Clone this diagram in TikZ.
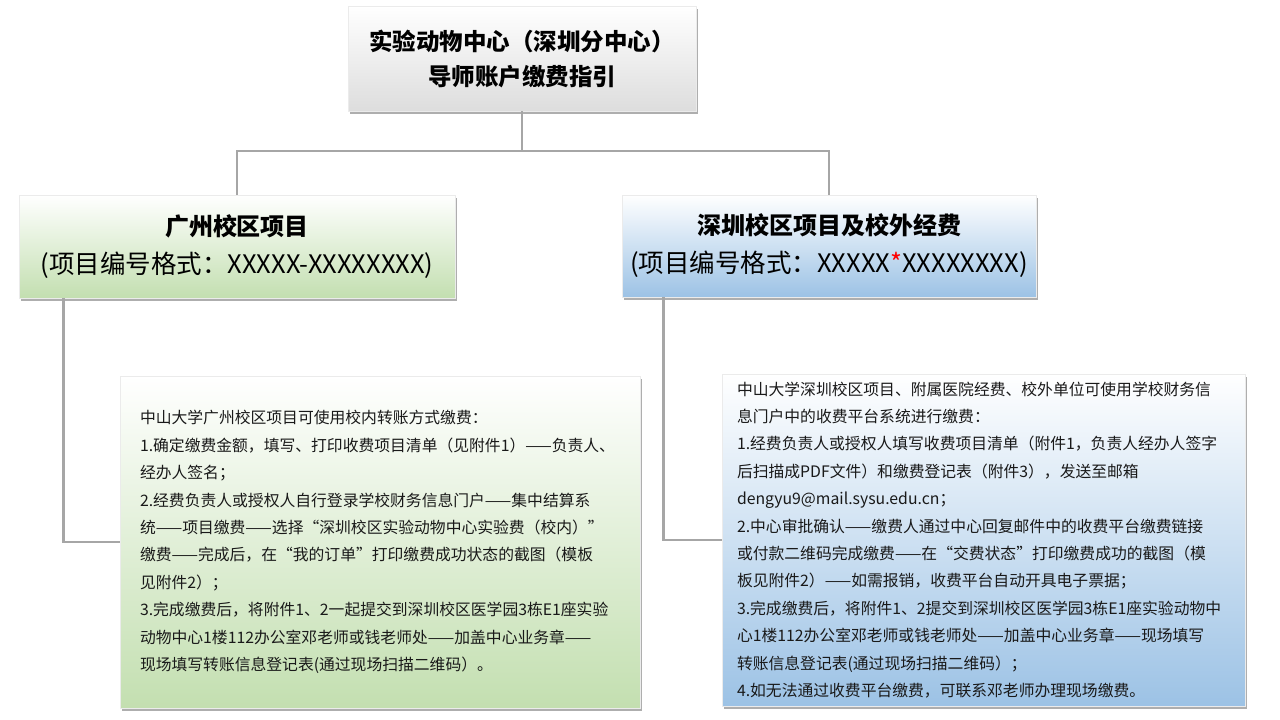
\documentclass[tikz,border=0pt]{standalone}
\usepackage{fontspec}
\setmainfont{Noto Sans CJK SC}
\usetikzlibrary{shadows}
\definecolor{lineg}{HTML}{A6A6A6}
\definecolor{grn}{HTML}{C3DFB0}
\definecolor{blu}{HTML}{9CC2E5}
\definecolor{gry}{HTML}{DDDDDD}
\begin{document}
\begin{tikzpicture}[x=1pt,y=-1pt,
  box/.style={rectangle, inner sep=0pt, draw=black!8, line width=0.4pt,
    drop shadow={shadow xshift=1.5pt,shadow yshift=-2.5pt,opacity=0.45,fill=black!70}},
  greenbox/.style={box, top color=white, bottom color=grn},
  bluebox/.style={box, top color=white, bottom color=blu},
  greybox/.style={box, top color=white, bottom color=gry},
  conn/.style={draw=lineg, line width=2.8pt},
  bodytext/.style={align=left, font=\fontsize{15.8}{27.4}\selectfont, text=black!90}]
\useasboundingbox[fill=white] (0,0) rectangle (1280,720);

\node[greybox, minimum width=348pt, minimum height=105pt, align=center,
  font=\fontsize{23.5}{35}\selectfont\bfseries] (top) at (522,58.5)
  {实验动物中心（深圳分中心）\\导师账户缴费指引};

\node[greenbox, minimum width=436pt, minimum height=103pt, align=center,
  font=\fontsize{24}{38}\selectfont] (lh) at (237,246.5)
  {\bfseries 广州校区项目\\\fontsize{25.5}{38}\selectfont (项目编号格式：XXXXX-XXXXXXXX)};

\node[bluebox, minimum width=414pt, minimum height=102pt, align=center,
  font=\fontsize{24}{38}\selectfont] (rh) at (829,246)
  {\bfseries 深圳校区项目及校外经费\\\fontsize{25.5}{38}\selectfont (项目编号格式：XXXXX{\color{red}*}XXXXXXXX)};

\node[greenbox, bodytext, minimum width=520pt, minimum height=332pt,
  inner xsep=20pt, text width=480pt] (ld) at (380,542)
  {中山大学广州校区项目可使用校内转账方式缴费：\\
   1.确定缴费金额，填写、打印收费项目清单（见附件1）——负责人、\\
   经办人签名；\\
   2.经费负责人或授权人自行登录学校财务信息门户——集中结算系\\
   统——项目缴费——选择“深圳校区实验动物中心实验费（校内）”\\
   缴费——完成后，在“我的订单”打印缴费成功状态的截图（模板\\
   见附件2）；\\
   3.完成缴费后，将附件1、2一起提交到深圳校区医学园3栋E1座实验\\
   动物中心1楼112办公室邓老师或钱老师处——加盖中心业务章——\\
   现场填写转账信息登记表(通过现场扫描二维码）。};

\node[bluebox, bodytext, minimum width=523pt, minimum height=332pt,
  inner xsep=15pt, text width=493pt] (rd) at (983.5,540)
  {中山大学深圳校区项目、附属医院经费、校外单位可使用学校财务信\\
   息门户中的收费平台系统进行缴费：\\
   1.经费负责人或授权人填写收费项目清单（附件1，负责人经办人签字\\
   后扫描成PDF文件）和缴费登记表（附件3），发送至邮箱\\
   dengyu9@mail.sysu.edu.cn；\\
   2.中心审批确认——缴费人通过中心回复邮件中的收费平台缴费链接\\
   或付款二维码完成缴费——在“交费状态”打印缴费成功的截图（模\\
   板见附件2）——如需报销，收费平台自动开具电子票据；\\
   3.完成缴费后，将附件1、2提交到深圳校区医学园3栋E1座实验动物中\\
   心1楼112办公室邓老师或钱老师处——加盖中心业务章——现场填写\\
   转账信息登记表(通过现场扫描二维码）；\\
   4.如无法通过收费平台缴费，可联系邓老师办理现场缴费。};

\coordinate (j) at (522,151);
\draw[conn] (top.south) -- (j);
\draw[conn] (j) -| (lh.north);
\draw[conn] (j) -| (rh.north);
\draw[conn] ([xshift=45pt]lh.south west) |- (ld.west);
\draw[conn] ([xshift=42pt]rh.south west) |- (rd.west);
\end{tikzpicture}
\end{document}
